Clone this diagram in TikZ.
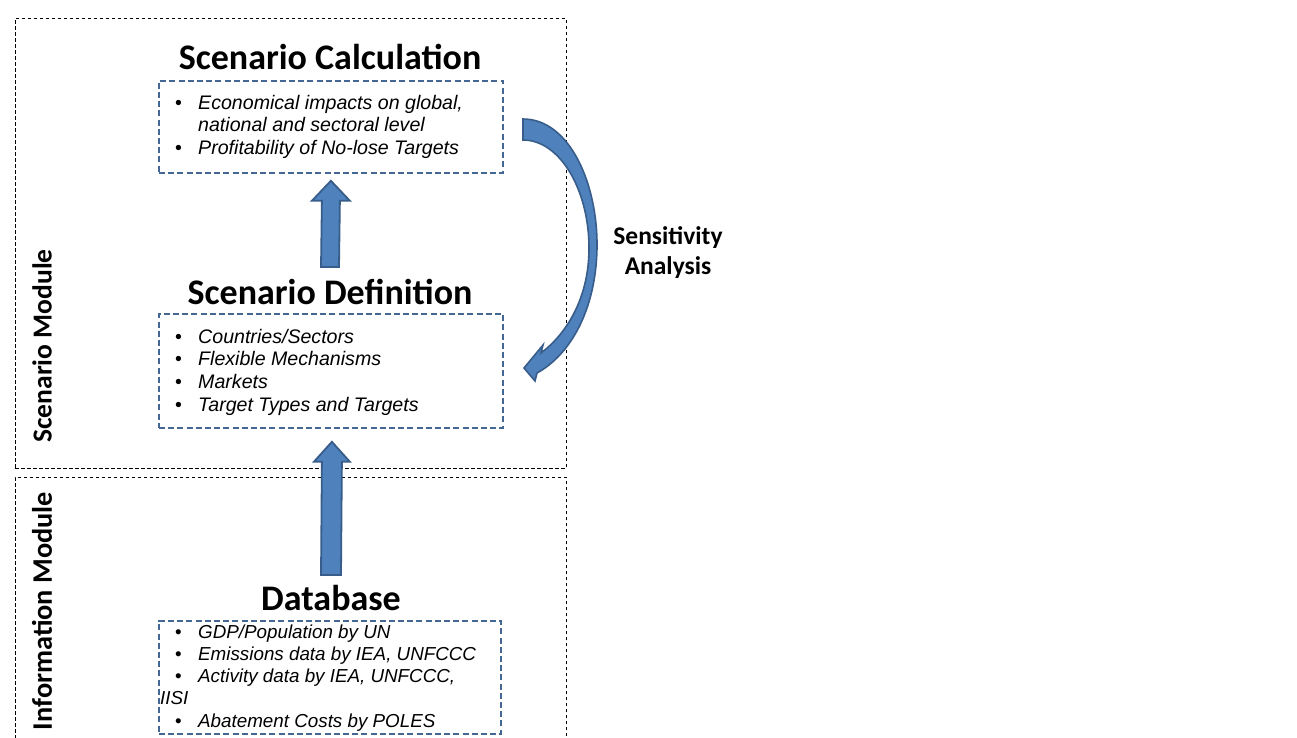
\documentclass[tikz,border=0pt]{standalone}
\usepackage{fontspec}
\setmainfont{Liberation Sans}
\newfontfamily\calb{Carlito}
\usetikzlibrary{calc}
\definecolor{boxblue}{RGB}{68,103,148}
\definecolor{arrfill}{RGB}{79,129,189}
\definecolor{arrline}{RGB}{56,93,138}
\newcommand\bitem{\makebox[23pt][l]{\upshape\textbullet}}
\tikzset{
  module/.style={draw=black, line width=0.9pt, dash pattern=on 3.5pt off 2.5pt, rectangle, inner sep=0pt},
  listbox/.style={draw=boxblue, line width=1.8pt, dash pattern=on 6pt off 3.2pt, rectangle, inner sep=0pt},
  title/.style={font=\calb\bfseries\fontsize{36}{36}\selectfont, inner sep=0pt},
  modlabel/.style={font=\calb\bfseries\fontsize{27.5}{28}\selectfont, inner sep=0pt, rotate=90},
  listtext/.style={font=\itshape\fontsize{19.6}{22.6}\selectfont, align=left, inner sep=0pt, anchor=north west},
  fatarrow/.style={fill=arrfill, draw=arrline, line width=1.8pt, line join=miter},
}
\begin{document}
\begin{tikzpicture}[x=1pt,y=-1pt]
\useasboundingbox (0,0) rectangle (1297,738);
\clip (0,0) rectangle (1297,738);

% module frames
\node[module, minimum width=551, minimum height=450, anchor=north west] (scen) at (15,18) {};
\node[module, minimum width=551, minimum height=320, anchor=north west] (info) at (15,477) {};
\node[modlabel] (scenlab) at (42,346) {Scenario Module};
\node[modlabel, font=\calb\bfseries\fontsize{28.3}{28}\selectfont] (infolab) at (42,611) {Information Module};

% titles
\node[title] (calc) at (330,57) {Scenario Calculation};
\node[title] (defn) at (330,292) {Scenario Definition};
\node[title] (db) at (331,598) {Database};

% list boxes
\node[listbox, minimum width=344, minimum height=92, anchor=north west] (b1) at (158,80) {};
\node[listbox, minimum width=344, minimum height=114, anchor=north west] (b2) at (158,313) {};
\node[listbox, minimum width=342, minimum height=113, anchor=north west] (b3) at (158,620) {};

\node[listtext] (l1) at (175,93.2) {\strut\bitem Economical impacts on global,\\
  \strut\hspace*{23pt}national and sectoral level\\
  \strut\bitem Profitability of No-lose Targets};
\node[listtext] (l2) at (175,327.2) {\strut\bitem Countries/Sectors\\
  \strut\bitem Flexible Mechanisms\\
  \strut\bitem Markets\\
  \strut\bitem Target Types and Targets};
\node[listtext, font=\itshape\fontsize{18.8}{22.2}\selectfont] (l3) at (175,622.5) {\strut\bitem GDP/Population by UN\\
  \strut\bitem Emissions data by IEA, UNFCCC\\
  \strut\bitem Activity data by IEA, UNFCCC,\\
  \strut\hspace*{-15pt}IISI\\
  \strut\bitem Abatement Costs by POLES};

% straight fat arrows
\coordinate (a1t) at ($(b1.south)+(0,7)$);
\coordinate (a1b) at ($(defn.north)+(0,-12)$);
\draw[fatarrow] ($(a1b)+(-9,0)$) -- ($(a1t)+(-9,20)$) -- ($(a1t)+(-19,20)$) -- (a1t)
  -- ($(a1t)+(19,20)$) -- ($(a1t)+(9,20)$) -- ($(a1b)+(9,0)$) -- cycle;
\coordinate (a2t) at ($(b2.south)+(1,13)$);
\coordinate (a2b) at ($(db.north)+(0,-10)$);
\draw[fatarrow] ($(a2b)+(-10,0)$) -- ($(a2t)+(-10,20)$) -- ($(a2t)+(-18,20)$) -- (a2t)
  -- ($(a2t)+(18,20)$) -- ($(a2t)+(10,20)$) -- ($(a2b)+(10,0)$) -- cycle;

% curved arrow (sensitivity analysis loop)
\draw[fatarrow, line width=1.6pt] (523,119) .. controls (570,119) and (598,185) .. (597,248)
  .. controls (596,310) and (570,355) .. (537,373)
  -- (535,381) -- (524,368) -- (543,345) -- (541,353)
  .. controls (565,335) and (589,300) .. (589,248)
  .. controls (589,190) and (560,140) .. (523,140) -- cycle;
\node[font=\calb\bfseries\fontsize{25.5}{30}\selectfont, align=center, inner sep=0pt] (sens) at (668,253) {Sensitivity\\Analysis};
\end{tikzpicture}
\end{document}
